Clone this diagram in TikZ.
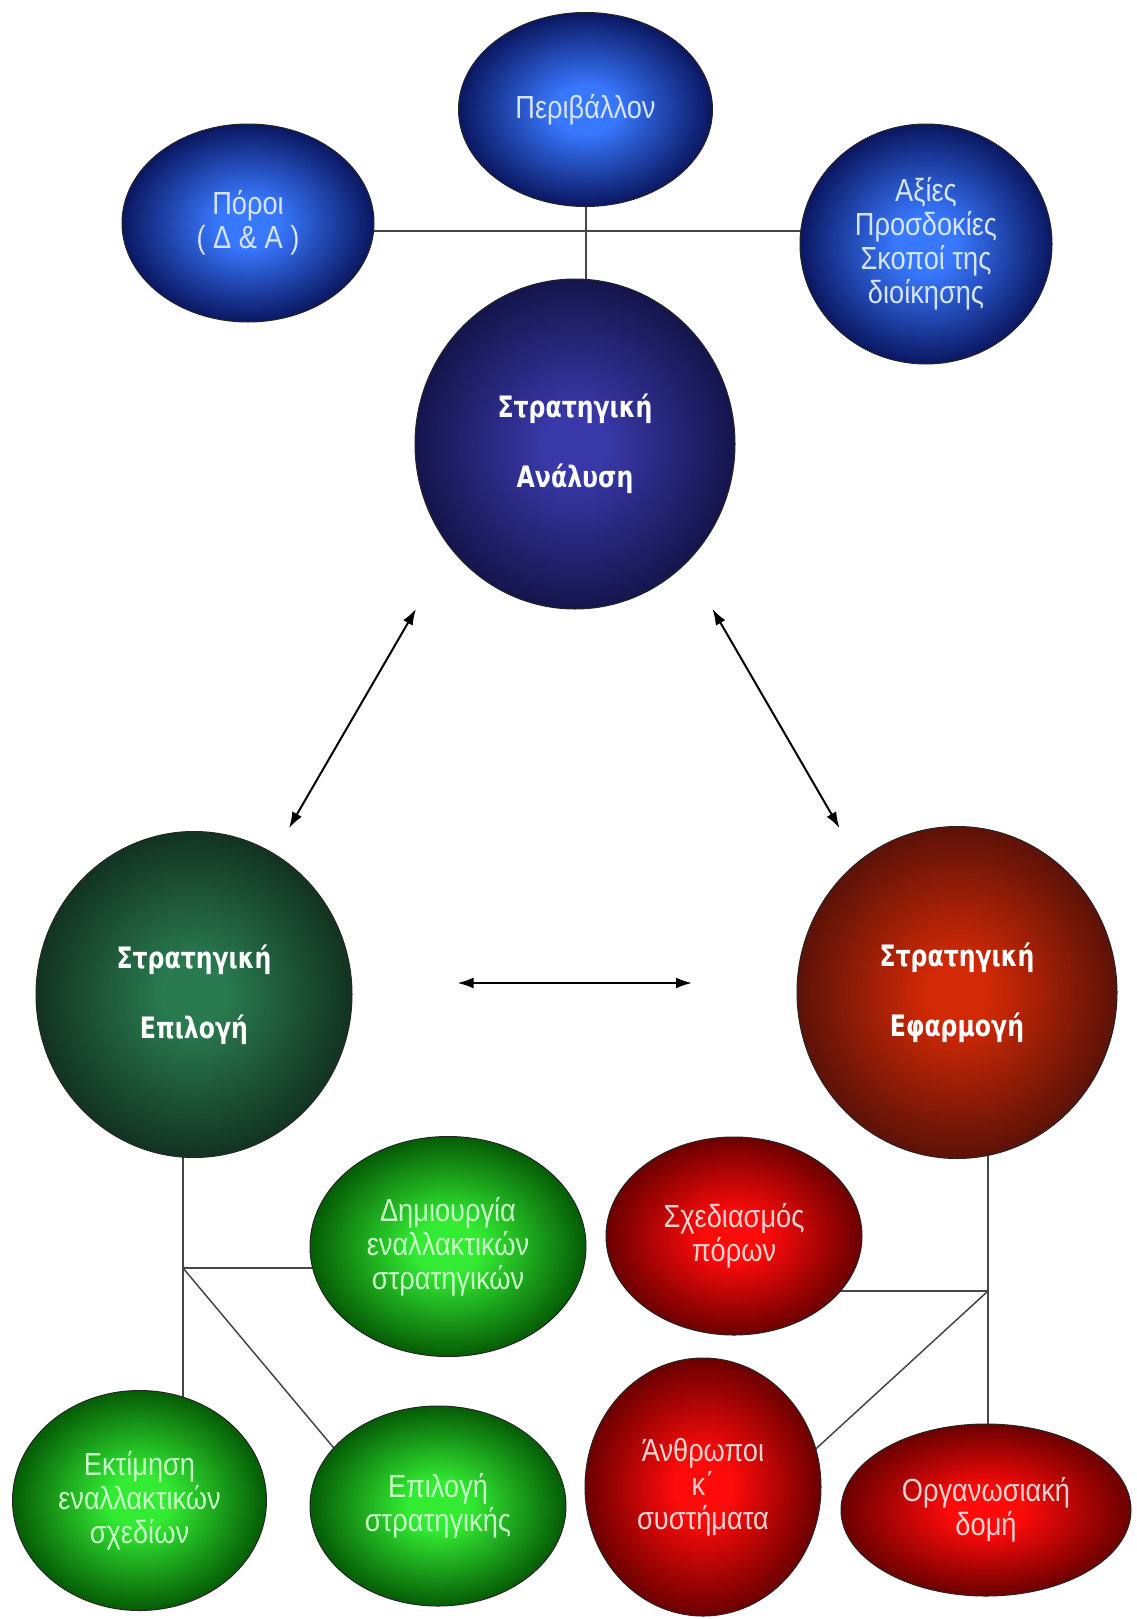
\documentclass[tikz,border=0pt]{standalone}
\usepackage{fontspec}
\setmainfont{Liberation Sans}
\newfontfamily\narrowf[FakeStretch=0.85]{Liberation Sans}
\newfontfamily\boldf[FakeStretch=0.8]{DejaVu Sans}
\usetikzlibrary{shapes.geometric,arrows.meta,backgrounds}
\pgfdeclareradialshading{shBlue}{\pgfpoint{0bp}{0bp}}{rgb(0bp)=(0.22,0.47,1); rgb(6bp)=(0.22,0.47,1); rgb(25bp)=(0.04,0.09,0.38); rgb(50bp)=(0.04,0.09,0.38)}
\pgfdeclareradialshading{shIndigo}{\pgfpoint{0bp}{0bp}}{rgb(0bp)=(0.22,0.22,0.66); rgb(5bp)=(0.22,0.22,0.66); rgb(25bp)=(0.08,0.08,0.3); rgb(50bp)=(0.08,0.08,0.3)}
\pgfdeclareradialshading{shDkGreen}{\pgfpoint{0bp}{0bp}}{rgb(0bp)=(0.16,0.48,0.31); rgb(5bp)=(0.16,0.48,0.31); rgb(25bp)=(0.07,0.2,0.13); rgb(50bp)=(0.07,0.2,0.13)}
\pgfdeclareradialshading{shRust}{\pgfpoint{0bp}{0bp}}{rgb(0bp)=(0.82,0.16,0.02); rgb(5bp)=(0.82,0.16,0.02); rgb(25bp)=(0.36,0.07,0.03); rgb(50bp)=(0.36,0.07,0.03)}
\pgfdeclareradialshading{shGreen}{\pgfpoint{0bp}{0bp}}{rgb(0bp)=(0.2,0.92,0.2); rgb(6bp)=(0.2,0.92,0.2); rgb(25bp)=(0.02,0.36,0.02); rgb(50bp)=(0.02,0.36,0.02)}
\pgfdeclareradialshading{shRed}{\pgfpoint{0bp}{0bp}}{rgb(0bp)=(1,0.04,0.04); rgb(6bp)=(1,0.04,0.04); rgb(25bp)=(0.42,0,0); rgb(50bp)=(0.42,0,0)}
\definecolor{txtBlue}{RGB}{215,228,255}
\definecolor{txtGreen}{RGB}{200,255,200}
\definecolor{txtRed}{RGB}{255,210,210}
\definecolor{lineGray}{RGB}{70,70,70}
\begin{document}
\begin{tikzpicture}[x=1pt,y=-1pt,
  bub/.style={ellipse, draw=black!85, line width=1pt, inner sep=0pt, align=center, shade},
  smalltxt/.style={font=\narrowf\fontsize{32}{34}\selectfont},
  bigtxt/.style={font=\boldf\bfseries\fontsize{29.5}{70}\selectfont, text=white},
  blueb/.style={bub, shading=shBlue, smalltxt, text=txtBlue},
  greenb/.style={bub, shading=shGreen, smalltxt, text=txtGreen},
  redb/.style={bub, shading=shRed, smalltxt, text=txtRed},
  conn/.style={draw=lineGray, line width=2pt},
  dbl/.style={draw=black, line width=2pt, {Latex[length=16pt,width=11pt]}-{Latex[length=16pt,width=11pt]}}]
\useasboundingbox (0,0) rectangle (1136,1619);

% top group
\node[blueb, minimum width=254pt, minimum height=194pt] (perib) at (585.5,109.5) {Περιβάλλον};
\node[blueb, minimum width=252pt, minimum height=198pt] (poroi) at (248,223) {Πόροι\\( Δ \& Α )};
\node[blueb, minimum width=252pt, minimum height=240pt] (axies) at (926,244) {Αξίες\\Προσδοκίες\\Σκοποί της\\διοίκησης};
\node[bub, shading=shIndigo, bigtxt, minimum width=320pt, minimum height=330pt] (anal) at (575,444) {Στρατηγική\\Ανάλυση};

% middle
\node[bub, shading=shDkGreen, bigtxt, minimum width=316pt, minimum height=326pt] (epil) at (194,994.5) {Στρατηγική\\Επιλογή};
\node[bub, shading=shRust, bigtxt, minimum width=320pt, minimum height=332pt] (efar) at (957,992.5) {Στρατηγική\\Εφαρμογή};

% green children
\node[greenb, minimum width=276pt, minimum height=220pt] (dimi) at (448,1246.5) {Δημιουργία\\εναλλακτικών\\στρατηγικών};
\node[greenb, minimum width=254pt, minimum height=220pt] (ektim) at (139.5,1500.5) {Εκτίμηση\\εναλλακτικών\\σχεδίων};
\node[greenb, minimum width=256pt, minimum height=200pt] (epstr) at (438,1506) {Επιλογή\\στρατηγικής};

% red children
\node[redb, minimum width=256pt, minimum height=198pt] (sxed) at (734,1236) {Σχεδιασμός\\πόρων};
\node[redb, minimum width=236pt, minimum height=258pt] (anthr) at (703,1487) {Άνθρωποι\\κ΄\\συστήματα};
\node[redb, minimum width=290pt, minimum height=172pt] (organ) at (986,1510) {Οργανωσιακή\\δομή};

% junctions and free ends
\coordinate (jt) at (585.5,231);
\coordinate (jl) at (183,1268);
\coordinate (jr) at (988,1291);
\coordinate (dl) at (359,1478);
\coordinate (dr) at (771,1490);

\begin{scope}[on background layer]
  \fill[white] (0,0) rectangle (1136,1619);
  \draw[conn] (jt -| poroi.center) -- (jt -| axies.center);
  \draw[conn] (perib.center) -- (perib.center |- anal.center);
  \draw[conn] (jl |- epil.center) -- (jl |- ektim.center);
  \draw[conn] (jl) -- (jl -| dimi.center);
  \draw[conn, line width=1.5pt] (jl) -- (dl);
  \draw[conn] (jr |- efar.center) -- (jr |- organ.center);
  \draw[conn] (jr) -- (jr -| sxed.center);
  \draw[conn, line width=1.5pt] (jr) -- (dr);
\end{scope}

% arrows
\coordinate (a1) at (416,609);
\coordinate (a2) at (289,828);
\coordinate (b1) at (712.5,609);
\coordinate (b2) at (839.5,828);
\coordinate (c1) at (457.5,983);
\coordinate (c2) at (692,983);
\draw[dbl] (a1) -- (a2);
\draw[dbl] (b1) -- (b2);
\draw[dbl] (c1) -- (c2);
\end{tikzpicture}
\end{document}
